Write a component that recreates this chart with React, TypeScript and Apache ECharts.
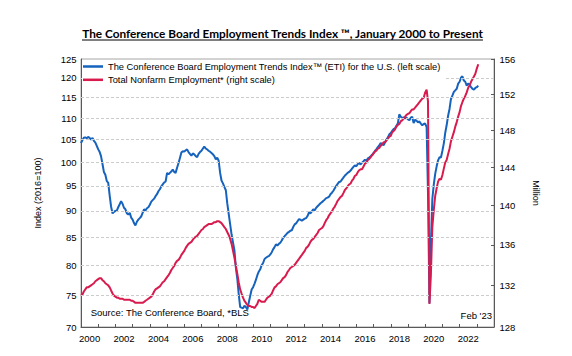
import React, { useEffect, useRef } from "react";
import * as echarts from "echarts";

const yearLabels = ["2000","2001","2002","2003","2004","2005","2006","2007","2008","2009","2010","2011","2012","2013","2014","2015","2016","2017","2018","2019","2020","2021","2022","2023"];
const leftTicks = [70, 75, 80, 85, 90, 95, 100, 105, 110, 115, 120, 125];
const leftGrid = [75, 80, 85, 90, 95, 100, 105, 110, 115, 120];
const rightTicks = [128, 132, 136, 140, 144, 148, 152, 156];

// Monthly values, Jan 2000 .. Feb 2023
const etiValues = [
  104.2,104.9,105.4,105.5,105.3,105.6,105.4,105.0,105.4,104.7,104.3,103.6,
  102.8,102.2,101.3,99.6,97.9,97.3,96.0,95.6,93.0,90.8,89.5,89.8,
  90.0,90.1,90.7,91.3,91.9,91.4,90.6,90.3,89.5,89.3,89.6,88.7,
  88.3,87.6,87.2,87.9,88.3,88.6,88.9,89.6,90.3,90.1,90.5,90.7,
  91.2,91.8,92.1,92.4,92.9,93.3,93.9,94.3,94.9,95.3,95.7,95.9,
  97.7,97.4,97.7,98.0,98.4,97.9,97.7,98.8,99.8,100.9,102.1,102.4,
  102.3,102.6,102.8,102.2,101.8,101.4,101.9,101.7,101.3,101.1,101.8,102.2,
  102.5,103.0,103.4,103.0,102.8,102.5,102.3,102.0,101.7,101.3,100.6,101.0,
  100.3,97.7,96.1,95.5,94.8,94.1,91.5,89.4,87.4,85.5,84.0,82.6,
  79.5,77.6,75.2,73.1,73.0,72.9,73.3,73.1,72.7,73.8,74.9,75.9,
  76.3,76.9,77.5,78.3,78.9,79.3,80.0,80.4,81.1,81.3,81.5,81.6,
  81.9,82.3,82.8,83.2,83.7,83.5,83.8,84.0,84.4,84.9,85.2,85.5,
  85.8,86.0,86.2,86.3,86.9,87.4,87.6,88.0,88.4,88.3,88.1,88.3,
  88.5,88.6,89.0,89.7,89.5,89.9,90.3,90.1,90.6,90.9,91.2,91.5,
  91.7,92.0,92.2,92.5,92.6,92.8,93.3,93.6,94.0,94.5,95.0,95.4,
  95.8,95.9,96.3,96.7,97.1,97.4,97.7,97.9,98.2,98.6,99.0,99.3,
  99.1,99.6,99.8,99.5,99.9,100.2,100.5,100.3,100.8,101.0,101.3,101.6,
  102.0,102.5,102.8,103.3,103.7,104.2,104.0,103.7,104.4,105.0,105.5,106.2,
  106.5,107.0,107.4,107.6,108.2,108.8,110.9,110.3,110.0,110.2,109.9,110.1,
  109.7,109.5,110.1,110.3,108.8,109.6,109.4,109.0,109.2,108.7,108.3,108.6,
  108.7,107.9,93.5,73.7,84.0,92.3,95.2,97.5,99.1,100.4,101.1,101.0,
  102.5,104.2,106.5,108.3,110.5,112.2,114.6,115.5,116.4,116.8,117.2,118.5,
  119.0,120.1,120.4,119.3,119.0,118.0,118.5,118.3,117.6,117.2,117.0,117.4,
  117.6,118.0
];

const payrollValues = [
  131.0,131.1,131.4,131.6,131.8,131.8,131.9,132.0,132.1,132.2,132.4,132.5,
  132.6,132.7,132.7,132.5,132.4,132.2,132.1,132.0,131.8,131.5,131.2,131.0,
  130.9,130.8,130.8,130.7,130.7,130.7,130.6,130.6,130.6,130.6,130.6,130.5,
  130.5,130.4,130.3,130.3,130.3,130.3,130.3,130.3,130.4,130.5,130.6,130.7,
  130.8,130.9,131.1,131.4,131.6,131.7,131.8,131.9,132.1,132.3,132.4,132.6,
  132.8,133.0,133.2,133.5,133.7,133.9,134.2,134.4,134.5,134.7,135.0,135.2,
  135.4,135.7,135.9,136.1,136.2,136.3,136.5,136.7,136.8,136.9,137.1,137.3,
  137.5,137.6,137.8,137.9,138.0,138.1,138.1,138.1,138.2,138.3,138.3,138.4,
  138.4,138.3,138.2,138.0,137.8,137.6,137.3,137.0,136.6,136.1,135.4,134.7,
  133.9,133.1,132.3,131.6,131.2,130.8,130.5,130.3,130.1,130.0,130.0,129.9,
  129.9,129.8,130.0,130.2,130.6,130.5,130.4,130.4,130.4,130.6,130.8,130.9,
  131.0,131.2,131.5,131.8,131.9,132.1,132.2,132.3,132.5,132.7,132.8,133.0,
  133.3,133.5,133.7,133.8,133.9,134.0,134.2,134.4,134.6,134.8,135.0,135.2,
  135.4,135.7,135.8,136.0,136.3,136.5,136.6,136.8,137.0,137.2,137.5,137.6,
  137.7,137.9,138.2,138.5,138.7,139.0,139.2,139.4,139.7,139.9,140.2,140.5,
  140.7,140.9,141.0,141.3,141.6,141.8,142.0,142.2,142.3,142.6,142.8,143.1,
  143.2,143.5,143.7,143.8,143.8,144.1,144.4,144.5,144.8,144.9,145.1,145.3,
  145.5,145.7,145.8,146.0,146.1,146.3,146.5,146.7,146.7,146.9,147.1,147.3,
  147.4,147.8,147.9,148.1,148.4,148.6,148.7,149.0,149.1,149.3,149.5,149.7,
  149.8,149.9,150.1,150.3,150.3,150.5,150.7,150.9,151.1,151.3,151.5,151.6,
  152.2,152.5,151.2,130.2,133.0,137.8,139.5,141.0,141.8,142.5,142.8,142.7,
  143.2,143.9,144.5,144.8,145.4,146.0,146.8,147.3,147.8,148.4,148.9,149.5,
  150.0,150.7,151.1,151.5,151.8,152.2,152.7,153.0,153.4,153.7,154.0,154.3,
  154.9,155.4
];

const etiName = "The Conference Board Employment Trends Index\u2122 (ETI) for the U.S. (left scale)";
const payrollName = "Total Nonfarm Employment* (right scale)";
const titleText = "The Conference Board Employment Trends Index \u2122, January 2000 to Present";
const sourceText = "Source: The Conference Board, *BLS";
const lastLabel = "Feb '23";

const FONT = "'Liberation Sans', Arial, sans-serif";

function monthDate(i: number): string {
  const y = 2000 + Math.floor(i / 12);
  const m = (i % 12) + 1;
  return `${y}-${m < 10 ? "0" + m : m}-01`;
}

export default function App() {
  const ref = useRef<HTMLDivElement>(null);
  useEffect(() => {
    if (!ref.current) return;
    const chart = echarts.init(ref.current, undefined, { renderer: "svg" });
    const axisColor = "#595959";
    const option: any = {
      animation: false,
      backgroundColor: "#ffffff",
      textStyle: { fontFamily: FONT },
      grid: {
        left: 81, right: 78, top: 59, bottom: 29,
        show: true, borderColor: "#a6a6a6", borderWidth: 1, backgroundColor: "transparent",
      },
      legend: {
        left: 82, top: 60, orient: "vertical", icon: "rect",
        itemWidth: 20, itemHeight: 2.5, itemGap: 2.3,
        padding: [1, 4, 1, 1],
        backgroundColor: "#ffffff", z: 20,
        textStyle: { fontSize: 9.3, color: "#000", fontFamily: FONT, lineHeight: 11 },
        data: [etiName, payrollName],
      },
      xAxis: [
        {
          type: "category", data: yearLabels, position: "bottom", boundaryGap: true,
          axisLine: { lineStyle: { color: axisColor, width: 1 } },
          axisTick: { show: true, inside: true, length: 3, interval: 0, lineStyle: { color: axisColor } },
          axisLabel: { interval: 1, fontSize: 9.5, color: "#000", margin: 6, fontFamily: FONT },
          splitLine: { show: false },
        },
        {
          type: "time", min: "2000-01-01", max: "2024-01-01", show: false,
          splitLine: { show: false },
        },
      ],
      yAxis: [
        {
          type: "log", min: 70, max: 125, position: "left",
          name: "Index (2016=100)", nameLocation: "middle", nameGap: 39,
          nameTextStyle: { fontSize: 9, color: "#000", fontFamily: FONT },
          axisLine: { show: true, lineStyle: { color: axisColor } },
          axisTick: { show: false },
          axisLabel: { customValues: leftTicks, fontSize: 9.5, color: "#000", margin: 4.5, fontFamily: FONT,
            formatter: (v: number) => String(Math.round(v)) },
          splitLine: { show: false },
        },
        {
          type: "log", min: 128, max: 156, position: "right",
          name: "Million", nameLocation: "middle", nameGap: 37, nameRotate: -90,
          nameTextStyle: { fontSize: 9, color: "#000", fontFamily: FONT },
          axisLine: { show: true, lineStyle: { color: axisColor } },
          axisTick: { show: true, inside: true, length: 3, customValues: rightTicks, lineStyle: { color: axisColor } },
          axisLabel: { customValues: rightTicks, fontSize: 9.5, color: "#000", margin: 5.5, fontFamily: FONT,
            formatter: (v: number) => String(Math.round(v)) },
          splitLine: { show: false },
        },
      ],
      series: [
        {
          name: "gridlines", type: "line", xAxisIndex: 1, yAxisIndex: 0,
          data: [], silent: true, z: 1,
          markLine: {
            silent: true, symbol: ["none", "none"], animation: false,
            label: { show: false },
            emphasis: { disabled: true },
            lineStyle: { color: "#cccccc", type: [3, 2], width: 1, opacity: 1 },
            data: leftGrid.map((v) => [
              { coord: ["2000-01-01", v] },
              { coord: ["2024-01-01", v] },
            ]),
          },
        },
        {
          name: etiName, type: "line", xAxisIndex: 1, yAxisIndex: 0,
          data: etiValues.map((v, i) => [monthDate(i), v]),
          showSymbol: false, symbol: "none", z: 3,
          lineStyle: { color: "#1663be", width: 2 }, itemStyle: { color: "#1663be" },
        },
        {
          name: payrollName, type: "line", xAxisIndex: 1, yAxisIndex: 1,
          data: payrollValues.map((v, i) => [monthDate(i), v]),
          showSymbol: false, symbol: "none", z: 4,
          lineStyle: { color: "#d91a4d", width: 2 }, itemStyle: { color: "#d91a4d" },
        },
      ],
      graphic: [
        {
          type: "text", x: 282.5, y: 33.5, silent: true,
          style: { text: titleText, fill: "#000", font: "bold 11.8px Lato, 'Open Sans', sans-serif",
            textAlign: "center", textVerticalAlign: "middle" },
        },
        {
          type: "line", silent: true,
          shape: { x1: 82, y1: 40, x2: 483, y2: 40 },
          style: { stroke: "#000", lineWidth: 1 },
        },
        {
          type: "text", x: 90.7, y: 312.5, silent: true,
          style: { text: sourceText, fill: "#000", font: `9.5px ${FONT}`, textVerticalAlign: "middle" },
        },
        {
          type: "text", x: 492, y: 315.5, silent: true,
          style: { text: lastLabel, fill: "#000", font: `9.5px ${FONT}`, textAlign: "right", textVerticalAlign: "middle" },
        },
      ],
    };
    chart.setOption(option);
    return () => chart.dispose();
  }, []);
  return <div ref={ref} style={{ position: "fixed", left: 0, top: 0, width: 572, height: 356 }} />;
}
